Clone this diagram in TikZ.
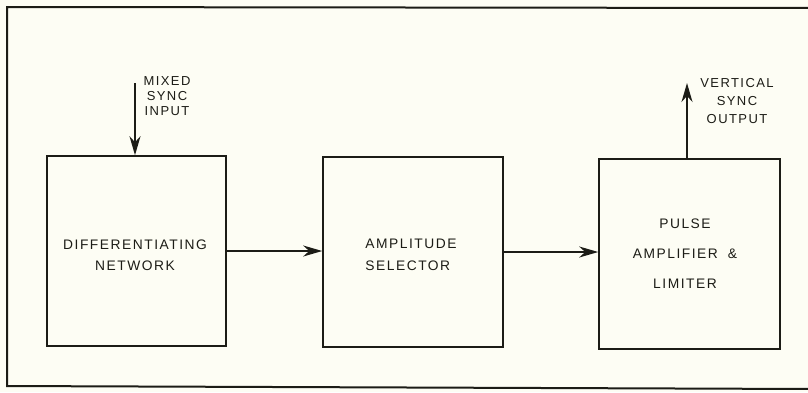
\documentclass[tikz,border=0pt]{standalone}
\usepackage{fontspec}
\setmainfont{Liberation Sans}[LetterSpace=11]
\usetikzlibrary{arrows.meta}
\definecolor{bg}{HTML}{FDFDF4}
\definecolor{ink}{HTML}{1C1C16}
\begin{document}
\begin{tikzpicture}[x=1pt,y=-1pt,
  blk/.style={draw=ink,line width=1.6pt,rectangle,inner sep=0pt},
  txt/.style={text=ink,inner sep=0pt},
  lbl/.style={text=ink,inner sep=0pt,align=center},
  conn/.style={draw=ink,line width=1.5pt,-{Stealth[length=19pt,width=11pt,inset=6pt]}}]
\fill[bg] (0,0) rectangle (808,392);
\useasboundingbox (0,0) rectangle (808,392);
\draw[ink,line width=2pt] (812,8) -- (7,7) -- (7,386) -- (812,389);
\node[blk,minimum width=179pt,minimum height=190pt] (b1) at (136.5,251) {};
\node[blk,minimum width=180pt,minimum height=190pt] (b2) at (413,252) {};
\node[blk,minimum width=181pt,minimum height=190pt] (b3) at (689.5,254) {};
\node[txt,align=center,font=\fontsize{13.8}{21}\selectfont] (t1) at (135,255) {DIFFERENTIATING\\NETWORK};
\node[txt,align=left,font=\fontsize{13.8}{22}\selectfont] (t2) at (411,254.5) {AMPLITUDE\\SELECTOR};
\node[txt,align=center,font=\fontsize{13.8}{30}\selectfont] (t3) at (685,253.5) {PULSE\\AMPLIFIER\hspace{10pt}\&\\LIMITER};
\coordinate (inp) at (135,83);
\coordinate (outp) at (687,83);
\draw[conn] (inp) -- (inp |- b1.north);
\draw[conn] (b1.east) -- (b2.west |- b1.east);
\draw[conn] (b2.east) -- (b3.west |- b2.east);
\draw[conn] (outp |- b3.north) -- (outp);
\node[lbl,font=\fontsize{13}{15}\selectfont] (lin) at (167,96) {MIXED\\SYNC\\INPUT};
\node[lbl,font=\fontsize{13}{18}\selectfont] (lout) at (737,101) {VERTICAL\\SYNC\\OUTPUT};
\end{tikzpicture}
\end{document}
